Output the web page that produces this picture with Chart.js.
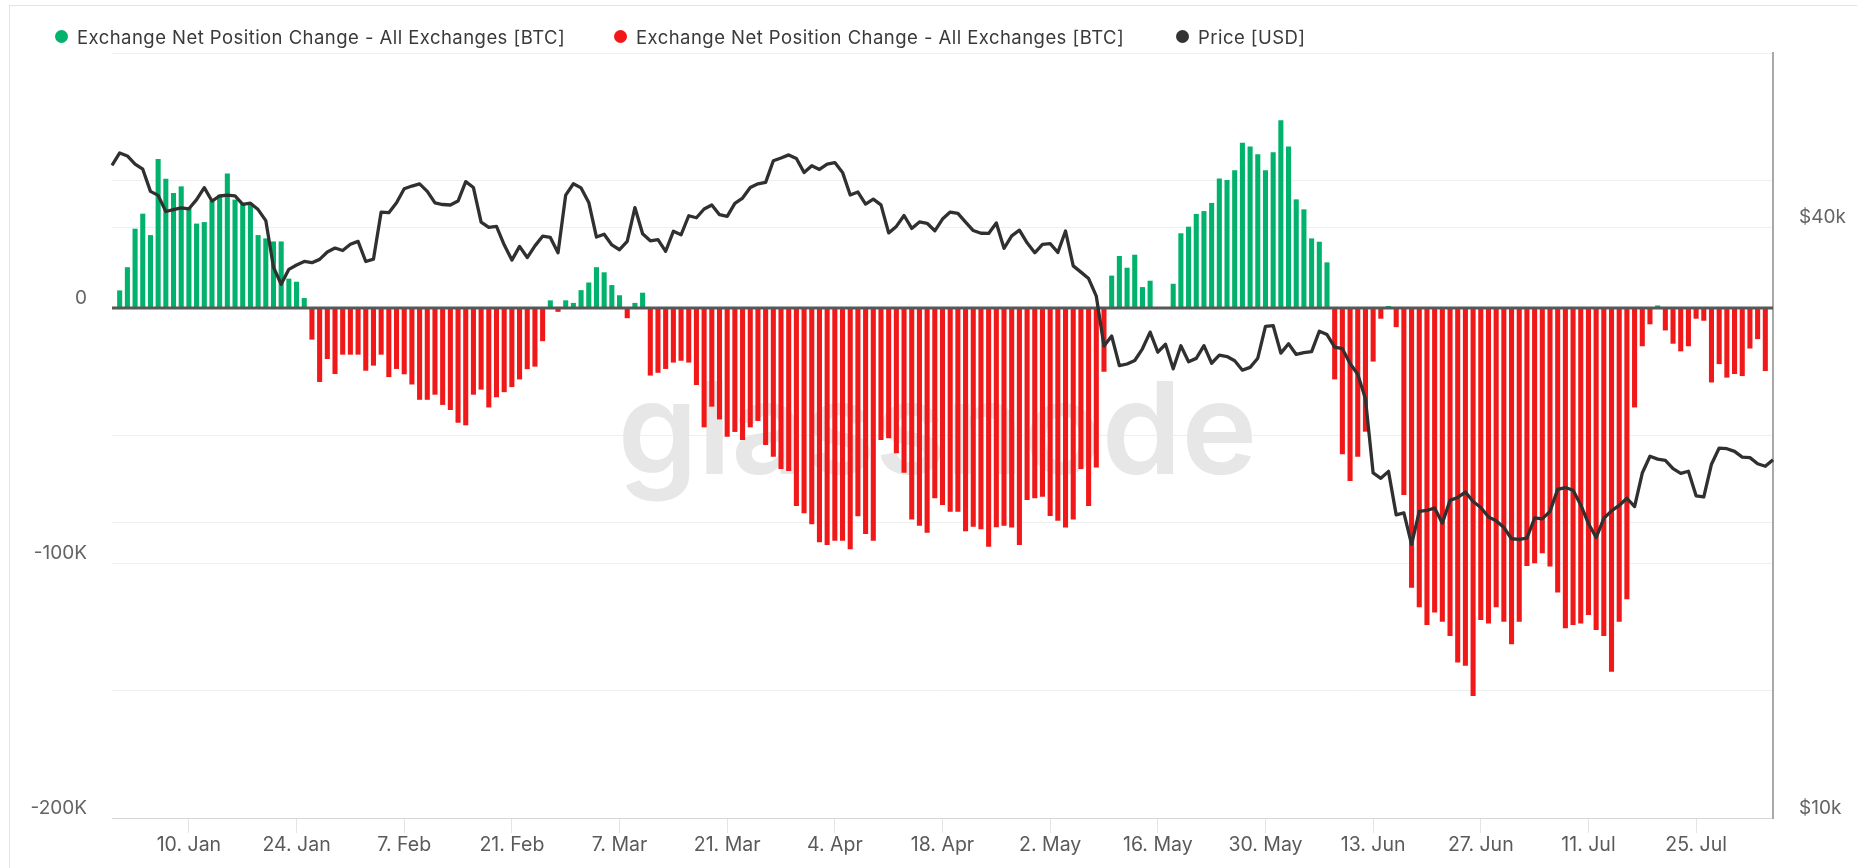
<!DOCTYPE html>
<html>
<head>
<meta charset="utf-8">
<script src="https://cdn.jsdelivr.net/npm/chart.js@4.4.1/dist/chart.umd.min.js"></script>
<style>
  html, body { margin: 0; padding: 0; background: #fff; }
  #wrap { position: relative; width: 1857px; height: 868px; overflow: hidden; font-family: Inter, sans-serif; }
  #card { position: absolute; left: 9px; top: 5px; right: -10px; bottom: -10px; border-left: 1px solid #e3e3e3; border-top: 1px solid #e3e3e3; }
  #chartBox { position: absolute; left: 0; top: 0; width: 1857px; height: 868px; }
  .leg { position: absolute; top: 26px; height: 22px; line-height: 22px; font-size: 18.5px; letter-spacing: 0.45px; color: #3a3a3a; white-space: nowrap; }
  .leg i { position: absolute; left: 0; top: 3.5px; width: 13px; height: 13px; border-radius: 50%; }
  .leg span { position: absolute; left: 22px; top: 0; }
</style>
</head>
<body>
<div id="wrap">
  <div id="card"></div>
  <div id="chartBox"><canvas id="chart"></canvas></div>
  <div class="leg" style="left:55px"><i style="background:#00b26b"></i><span>Exchange Net Position Change - All Exchanges [BTC]</span></div>
  <div class="leg" style="left:614px"><i style="background:#f01818"></i><span>Exchange Net Position Change - All Exchanges [BTC]</span></div>
  <div class="leg" style="left:1176px"><i style="background:#333333"></i><span>Price [USD]</span></div>
</div>
<script>
// daily values, 31 Dec 2021 .. 4 Aug 2022
const startDay = Date.UTC(2021, 11, 31);

// net position change, thousands of BTC (null = no bar)
const netChangeK = [
  null,
  // Jan
  6.9, 16.0, 31.1, 37.0, 28.6, 58.4, 50.7, 45.1, 47.7, 39.2, 33.1, 33.7, 42.1, 44.4, 52.7, 42.5,
  41.2, 40.8, 28.6, 27.3, 26.1, 26.1, 11.5, 10.3, 3.9, -12.4, -29.0, -20.0, -25.9, -18.3, -18.3,
  // Feb
  -18.3, -24.6, -22.6, -18.3, -27.1, -23.9, -26, -30, -36, -36, -34, -38, -40, -45, -46, -34,
  -32, -39, -35, -33, -31, -28, -24, -23, -13, 3, -1.5, 3,
  // Mar
  2, 7, 10, 16, 14, 9, 5, -4, 2, 6, -26.5, -25.4, -23.9, -21.4, -20.7, -21.4, -30.2, -46.8,
  -38.7, -43.7, -50.5, -48.6, -51.8, -46.8, -44.3, -53.7, -58.3, -63.1, -63.9, -77.6, -80.5,
  // Apr
  -84.8, -91.9, -92.9, -91.3, -91.3, -94.6, -81.7, -88.6, -91.3, -51.8, -51.1, -57, -64.6, -82.9,
  -85.4, -88.1, -74.6, -77.3, -79.9, -79.9, -87.5, -85.8, -86.8, -93.6, -86, -85.4, -86.1, -92.9,
  -75.3, -74.6,
  // May
  -74, -81.6, -83.4, -86.1, -82.9, -63.1, -77.6, -62.5, -25, 12.7, 20.4, 15.8, 20.9, 8.2, 10.7,
  null, null, 9.5, 29.3, 31.9, 36.9, 38.0, 41.2, 50.8, 50.2, 54.0, 64.8, 63.3, 60.3, 54.0, 61.1,
  // Jun
  73.6, 63.3, 42.6, 38.7, 27.3, 26.0, 17.9, -28, -57.4, -67.8, -58.3, -48.5, -21, -4.2, 0.8, -7.5,
  -73.3, -109.7, -117.4, -124.3, -119.4, -123, -128.6, -139, -140.3, -152.2, -122.4, -123.7,
  -117.4, -123,
  // Jul
  -131.9, -123, -101.2, -100.1, -96.2, -101.4, -111.6, -125.6, -124.3, -123.7, -120.4, -126.3,
  -128.6, -142.6, -123, -114.2, -39, -15, -6.4, 1, -8.8, -14, -17, -15, -4.2, -5, -29.2, -22,
  -27.3, -25.9, -26.7,
  // Aug
  -15.9, -12.2, -24.7, null
];

// BTC price, USD
const priceUsd = [
  46306,
  47686, 47345, 46458, 45897, 43569, 43160, 41558, 41734, 41912, 41822, 42736, 43949, 42591, 43099, 43177, 43113,
  42250, 42375, 41744, 40680, 36457, 35030, 36276, 36654, 36954, 36852, 37138, 37784, 38138, 37917, 38483,
  38743, 36952, 37154, 41501, 41441, 42412, 43840, 44118, 44338, 43565, 42407, 42244, 42197, 42586,
  44575, 43961, 40538, 40030, 40122, 38431, 37075, 38286, 37296, 38333, 39214, 39105, 37710, 43193,
  44354, 43925, 42452, 39138, 39400, 38420, 37988, 38731, 41942, 39437, 38795, 38905, 37850, 39667, 39339, 41144,
  40952, 41802, 42191, 41248, 41078, 42358, 42892, 43960, 44349, 44500, 46820, 47128, 47465, 47063, 45538,
  46281, 45868, 46453, 46622, 45555, 43206, 43503, 42287, 42782, 42207, 39521, 40127, 41166, 39936, 40552,
  40424, 39716, 40827, 41503, 41374, 40527, 39741, 39486, 39470, 40458, 38118, 39241, 39773, 38609, 37714,
  38469, 38530, 37751, 39698, 36575, 36040, 35502, 34060, 30296, 31022, 28936, 29047, 29284, 30102, 31305, 29862,
  30425, 28720, 30314, 29200, 29433, 30323, 29098, 29655, 29562, 29267, 28628, 28814, 29445, 31726, 31792,
  29799, 30467, 29705, 29833, 29906, 31371, 31125, 30215, 30112, 29083, 28360, 26762, 22487, 22206, 22572,
  20381, 20471, 19017, 20553, 20600, 20710, 19988, 21086, 21232, 21502, 21028, 20735, 20281, 20104, 19785,
  19269, 19243, 19298, 20232, 20191, 20548, 21638, 21731, 21592, 20860, 19971, 19323, 20212, 20570, 20837, 21191,
  20779, 22485, 23390, 23231, 23164, 22715, 22466, 22579, 21310, 21254, 22953, 23843, 23805, 23656, 23337,
  23314, 22978, 22846, 23200
];

const tickDates = ["2022-01-10", "2022-01-24", "2022-02-07", "2022-02-21", "2022-03-07", "2022-03-21",
  "2022-04-04", "2022-04-18", "2022-05-02", "2022-05-16", "2022-05-30", "2022-06-13", "2022-06-27",
  "2022-07-11", "2022-07-25"];
const tickLabels = ["10. Jan", "24. Jan", "7. Feb", "21. Feb", "7. Mar", "21. Mar", "4. Apr", "18. Apr",
  "2. May", "16. May", "30. May", "13. Jun", "27. Jun", "11. Jul", "25. Jul"];

const leftLabels = { "0": "0", "-100000": "-100K", "-200000": "-200K" };
const rightLabels = { "10000": "$10k", "40000": "$40k" };
const rightGrid = [10000, 20000, 40000];

const GREEN = "#00b26b";
const RED = "#f01818";

const dates = priceUsd.map((_, i) => new Date(startDay + i * 864e5).toISOString().slice(0, 10));
const inflow = netChangeK.map(v => (v != null && v >= 0) ? v * 1000 : null);
const outflow = netChangeK.map(v => (v != null && v < 0) ? v * 1000 : null);

// watermark behind the bars
const watermark = {
  id: "watermark",
  beforeDatasetsDraw(chart) {
    const { ctx, chartArea } = chart;
    ctx.save();
    ctx.font = "600 128px Inter";
    ctx.fillStyle = "#e7e7e7";
    ctx.textAlign = "center";
    ctx.textBaseline = "alphabetic";
    ctx.fillText("glassnode", (chartArea.left + chartArea.right) / 2 - 5, chartArea.top + 421);
    ctx.restore();
  }
};

// dark zero line, above the bars but under the price line
const zeroLine = {
  id: "zeroLine",
  afterDatasetDraw(chart, args) {
    if (args.index !== 0) return;
    const y = chart.scales.y.getPixelForValue(0);
    const { left, right } = chart.chartArea;
    const ctx = chart.ctx;
    ctx.save();
    ctx.strokeStyle = "#585858";
    ctx.lineWidth = 3;
    ctx.beginPath();
    ctx.moveTo(left, y);
    ctx.lineTo(right, y);
    ctx.stroke();
    ctx.restore();
  }
};

Chart.defaults.font.family = "Inter";
Chart.defaults.font.size = 19;
Chart.defaults.color = "#646464";

new Chart(document.getElementById("chart"), {
  type: "bar",
  data: {
    labels: dates,
    datasets: [
      { label: "Exchange Net Position Change - All Exchanges [BTC]", data: inflow, backgroundColor: GREEN,
        yAxisID: "y", grouped: false, order: 1, barPercentage: 0.66, categoryPercentage: 1 },
      { label: "Exchange Net Position Change - All Exchanges [BTC]", data: outflow, backgroundColor: RED,
        yAxisID: "y", grouped: false, order: 2, barPercentage: 0.66, categoryPercentage: 1 },
      { type: "line", label: "Price [USD]", data: priceUsd, yAxisID: "y1", order: 0,
        borderColor: "#303030", borderWidth: 3.3, pointRadius: 0, tension: 0, borderJoinStyle: "round" }
    ]
  },
  options: {
    responsive: true,
    maintainAspectRatio: false,
    devicePixelRatio: 1,
    animation: false,
    layout: { padding: { top: 53, left: 0, right: 0, bottom: 0 } },
    plugins: { legend: { display: false }, tooltip: { enabled: false } },
    scales: {
      x: {
        offset: false,
        afterBuildTicks: s => { s.ticks = s.ticks.filter(t => tickDates.includes(dates[t.value])); },
        afterFit: s => { s.height = 50; },
        ticks: {
          autoSkip: false, maxRotation: 0, padding: 0, color: "#5a5a5a", font: { size: 19.5 },
          callback: v => tickLabels[tickDates.indexOf(dates[v])]
        },
        grid: { offset: false, drawOnChartArea: false, drawTicks: true, tickLength: 15, color: "#e4e4e4" },
        border: { display: true, color: "#d6d6d6", width: 1 }
      },
      y: {
        position: "left",
        min: -200000,
        max: 100000,
        afterFit: s => { s.width = 112; },
        ticks: {
          stepSize: 50000, padding: 25, labelOffset: -9.5,
          callback: v => leftLabels[String(v)] || ""
        },
        grid: { drawTicks: false, color: c => c.tick && c.tick.value === 0 ? "rgba(0,0,0,0)" : "#efefef" },
        border: { display: false }
      },
      y1: {
        type: "logarithmic",
        position: "right",
        min: 10000,
        max: 60300,
        afterBuildTicks: s => { s.ticks = rightGrid.map(v => ({ value: v })); },
        afterFit: s => { s.width = 84; },
        ticks: { padding: 26, labelOffset: -10, callback: v => rightLabels[String(v)] || "" },
        grid: { drawTicks: false, color: "#efefef" },
        border: { display: true, color: "#a9a9a9", width: 2 }
      }
    }
  },
  plugins: [watermark, zeroLine]
});
</script>
</body>
</html>
